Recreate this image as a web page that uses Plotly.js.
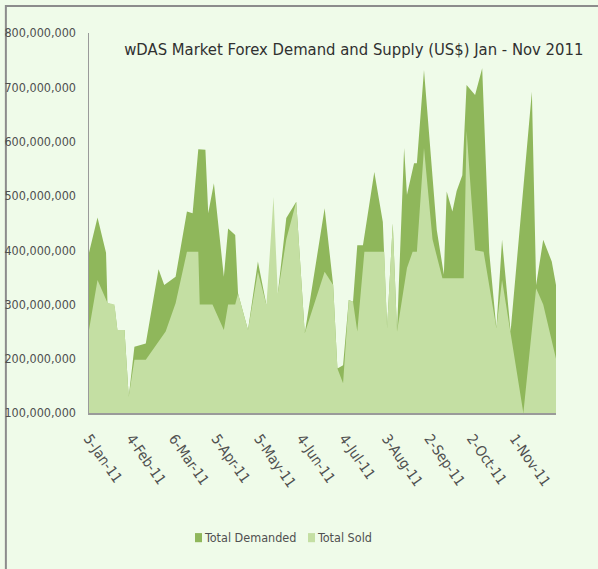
<!DOCTYPE html>
<html>
<head>
<meta charset="utf-8">
<script src="https://cdn.plot.ly/plotly-3.0.1.min.js"></script>
<style>
html,body{margin:0;padding:0;background:#effbe9;}
#chart{width:598px;height:569px;}
</style>
</head>
<body>
<div id="chart"></div>
<script>
// Values in US$ millions
const UNIT = 1e6;

const demandedDates = [
 "2011-01-05","2011-01-11","2011-01-17","2011-01-18","2011-01-23","2011-01-25","2011-01-30",
 "2011-02-02","2011-02-06","2011-02-14","2011-02-23","2011-02-27","2011-03-07","2011-03-15",
 "2011-03-19","2011-03-23","2011-03-28","2011-03-30","2011-04-03","2011-04-10","2011-04-13",
 "2011-04-18","2011-04-20","2011-04-27","2011-05-04","2011-05-10","2011-05-15","2011-05-18",
 "2011-05-24","2011-05-31","2011-06-06","2011-06-13","2011-06-20","2011-06-26","2011-06-29",
 "2011-07-03","2011-07-07","2011-07-10","2011-07-13","2011-07-17","2011-07-25","2011-07-31",
 "2011-08-03","2011-08-07","2011-08-10","2011-08-15","2011-08-17","2011-08-22","2011-08-24",
 "2011-08-29","2011-09-03","2011-09-07","2011-09-12","2011-09-14","2011-09-18","2011-09-21",
 "2011-09-25","2011-09-28","2011-10-04","2011-10-09","2011-10-14","2011-10-19","2011-10-23",
 "2011-10-29","2011-11-13","2011-11-16","2011-11-21","2011-11-27","2011-11-30"
];
const totalDemanded = [
 395,460,395,303,296,253,253,
 130,222,228,365,336,351,471,
 468,586,585,468,523,351,440,
 428,320,253,379,299,310,320,
 459,489,247,358,477,336,182,
 188,308,305,409,409,544,452,
 256,449,250,588,502,560,560,
 732,575,437,355,508,471,509,
 538,704,686,735,395,256,419,
 250,692,336,419,379,336
];

const soldDates = [
 "2011-01-05","2011-01-11","2011-01-18","2011-01-23","2011-01-25","2011-01-30","2011-02-02",
 "2011-02-06","2011-02-14","2011-02-28","2011-03-07","2011-03-15","2011-03-23","2011-03-24",
 "2011-04-02","2011-04-10","2011-04-13","2011-04-18","2011-04-20","2011-04-27","2011-05-04",
 "2011-05-10","2011-05-15","2011-05-18","2011-05-24","2011-05-31","2011-06-06","2011-06-20",
 "2011-06-26","2011-06-29","2011-07-03","2011-07-07","2011-07-10","2011-07-13","2011-07-18",
 "2011-08-01","2011-08-03","2011-08-07","2011-08-10","2011-08-17","2011-08-21","2011-08-24",
 "2011-08-29","2011-09-04","2011-09-11","2011-09-26","2011-09-28","2011-10-04","2011-10-10",
 "2011-10-19","2011-10-23","2011-11-07","2011-11-16","2011-11-21","2011-11-30"
];
const totalSold = [
 253,345,303,300,253,253,130,
 198,198,250,302,397,397,300,
 300,253,300,300,320,253,360,
 299,498,320,420,489,247,360,
 336,182,155,308,305,250,397,
 397,256,449,250,367,397,397,
 588,420,348,348,620,400,397,
 256,345,100,330,300,200
];

const tickDates = ["2011-01-05","2011-02-04","2011-03-06","2011-04-05","2011-05-05","2011-06-04",
 "2011-07-04","2011-08-03","2011-09-02","2011-10-02","2011-11-01"];
const tickLabels = ["5-Jan-11","4-Feb-11","6-Mar-11","5-Apr-11","5-May-11","4-Jun-11",
 "4-Jul-11","3-Aug-11","2-Sep-11","2-Oct-11","1-Nov-11"];

const seriesNames = ["Total Demanded","Total Sold"];
const darkGreen = "#8fb75b";
const lightGreen = "#c4dfa3";
const TEXT = "#505050";
const FONT = "'DejaVu Sans Condensed', 'Liberation Sans Narrow', 'Liberation Sans', sans-serif";

const traces = [
 {x: demandedDates, y: totalDemanded.map(v => v*UNIT), type:"scatter", mode:"lines",
  fill:"tozeroy", fillcolor: darkGreen, line:{width:0, color: darkGreen}, showlegend:false,
  name: seriesNames[0], hoverinfo:"skip"},
 {x: soldDates, y: totalSold.map(v => v*UNIT), type:"scatter", mode:"lines",
  fill:"tozeroy", fillcolor: lightGreen, line:{width:0, color: lightGreen}, showlegend:false,
  name: seriesNames[1], hoverinfo:"skip"}
];

// legend drawn as text + colour keys below the plot
const legendX = [0.227, 0.469];   // paper x of each key square
const legendY = -0.328;
const annotations = seriesNames.map((n, i) => ({
 text: n, xref:"paper", yref:"paper", x: legendX[i] + 0.015, y: legendY,
 xanchor:"left", yanchor:"middle", showarrow:false,
 font:{family: FONT, size:12.5, color: TEXT}
}));
const legendShapes = seriesNames.map((n, i) => ({
 type:"rect", xref:"paper", yref:"paper",
 x0: legendX[i], x1: legendX[i] + 0.015, y0: legendY - 0.012, y1: legendY + 0.012,
 line:{width:0}, fillcolor: [darkGreen, lightGreen][i]
}));

const layout = {
 width:598, height:569,
 paper_bgcolor:"#effbe9", plot_bgcolor:"#effbe9",
 margin:{l:89, r:42, t:33, b:156},
 font:{family: FONT, size:13, color: TEXT},
 title:{text:"wDAS Market Forex Demand and Supply (US$) Jan - Nov 2011",
  font:{family: FONT, size:16.5, color:"#303030"},
  x:0.567, xref:"paper", xanchor:"center", y:0.914, yref:"container", yanchor:"middle"},
 xaxis:{type:"date", range:["2011-01-05","2011-11-30"], tickvals: tickDates, ticktext: tickLabels,
  tickangle:55, showgrid:false, zeroline:false, showline:true, linecolor:"#9a9a9a", linewidth:1.5,
  ticks:"", ticklabelstandoff:10, tickfont:{size:14.5, color: TEXT}},
 yaxis:{range:[100*UNIT, 800*UNIT], dtick:100*UNIT, tickformat:",", showgrid:false, zeroline:false,
  showline:true, linecolor:"#9a9a9a", linewidth:1.5, ticks:"", ticklabelstandoff:9,
  tickfont:{size:12.5, color: TEXT}},
 showlegend:false,
 annotations: annotations,
 shapes:[
  {type:"rect", xref:"paper", yref:"paper", x0:-0.178, x1:1.2, y0:-0.6, y1:1.071,
   line:{color:"#8c8c8c", width:2}, fillcolor:"rgba(0,0,0,0)", layer:"below"}
 ].concat(legendShapes)
};

Plotly.newPlot("chart", traces, layout, {staticPlot:true, displayModeBar:false});
</script>
</body>
</html>
